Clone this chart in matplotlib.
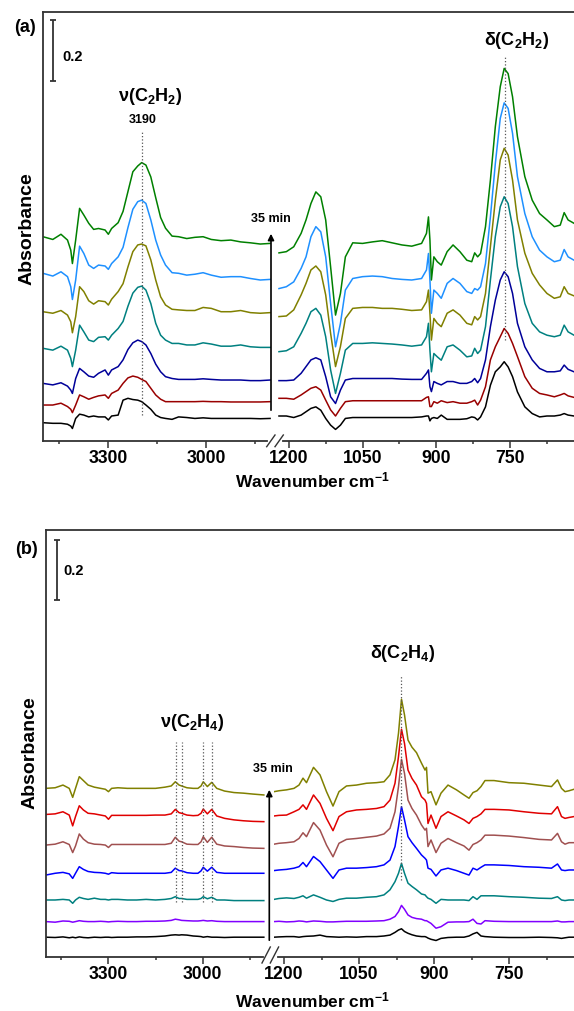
import numpy as np
import matplotlib.pyplot as plt
import matplotlib.patches as mpatches
from matplotlib.lines import Line2D

plt.rcParams['font.family'] = ['Liberation Sans', 'DejaVu Sans']
plt.rcParams['font.weight'] = 'bold'
plt.rcParams['mathtext.fontset'] = 'custom'
plt.rcParams['mathtext.rm'] = 'Liberation Sans:bold'
plt.rcParams['mathtext.it'] = 'Liberation Sans:bold'
plt.rcParams['mathtext.bf'] = 'Liberation Sans:bold'
plt.rcParams['mathtext.default'] = 'rm'

W, H = 574, 1011

# ---------------- panel (a): C2H2, absorbance in mAbs ----------------
wn_a_hi = [3500, 3470, 3445, 3425, 3415, 3410, 3400, 3388, 3375, 3360, 3345, 3330, 3310,
           3300, 3290, 3270, 3255, 3240, 3225, 3210, 3198, 3185, 3170, 3155, 3140, 3125,
           3105, 3085, 3060, 3035, 3010, 2985, 2955, 2925, 2895, 2865, 2835, 2805]
wn_a_lo = [1220, 1205, 1190, 1175, 1165, 1155, 1145, 1135, 1125, 1115, 1105, 1095, 1085,
           1070, 1050, 1030, 1010, 990, 970, 950, 930, 920, 916, 913, 910, 905, 898, 890,
           878, 866, 852, 838, 828, 822, 816, 810, 800, 790, 780, 770, 762, 754, 745, 735,
           720, 705, 690, 675, 660, 648, 640, 632, 620]

a_hi_black = [-14, -16, -16, -19, -25, -33, 0, 14, 11, 5, 8, 5, 5, -5, 8, 11, 60, 66, 62, 60, 55, 44, 30, 11, 3, 0, -3, 5, 3, 0, 2, 0, 0, 0, 0, 0, -1, 0]
a_hi_red = [-11, -11, -5, -16, -25, -36, -11, 22, 16, 8, 14, 19, 22, 11, 27, 38, 60, 78, 84, 80, 73, 66, 44, 22, 8, 0, 0, 0, 0, 0, 1, 0, 0, -1, -1, -1, -1, 0]
a_hi_navy = [-11, -16, -9, -20, -33, -44, 5, 38, 27, 13, 9, 22, 33, 16, 33, 44, 66, 100, 122, 131, 126, 115, 87, 52, 27, 11, 5, 2, 2, 2, 4, 2, 0, 0, 0, -2, -2, 0]
a_hi_teal = [-3, -9, 4, -9, -36, -63, -9, 73, 51, 24, 19, 33, 35, 24, 40, 62, 85, 135, 178, 197, 201, 188, 144, 79, 40, 24, 13, 13, 8, 8, 15, 11, 4, 4, 8, 2, 0, 0]
a_hi_olive = [3, -2, 7, -8, -30, -66, -13, 85, 69, 39, 28, 39, 36, 25, 44, 69, 95, 150, 200, 222, 225, 219, 173, 107, 52, 25, 11, 9, 7, 7, 17, 14, 3, 3, 7, 0, -2, 0]
a_hi_blue = [20, 11, 25, 9, -24, -66, -2, 109, 85, 47, 36, 47, 44, 33, 52, 74, 105, 170, 230, 255, 260, 249, 195, 129, 80, 47, 22, 20, 14, 17, 22, 14, 7, 9, 9, 3, -2, 0]
a_hi_green = [22, 13, 30, 11, -22, -66, 11, 115, 93, 66, 46, 49, 44, 30, 49, 68, 105, 170, 235, 254, 265, 257, 218, 150, 85, 50, 24, 22, 16, 20, 22, 13, 9, 11, 5, 2, -2, 0]

a_lo_black = [8, 8, 3, 11, 22, 33, 38, 27, 0, -22, -36, -22, 0, 3, 3, 3, 3, 3, 3, 3, 5, 8, 8, -8, 0, 3, 0, 11, -3, -3, -3, -1, 5, 3, -5, 5, 38, 109, 153, 169, 186, 169, 137, 87, 38, 16, 5, 8, 8, 11, 16, 11, 8]
a_lo_red = [11, 11, 8, 22, 33, 44, 49, 38, 5, -27, -47, -22, 0, 3, 3, 3, 3, 3, 3, 3, 3, 14, 16, -16, -16, 0, -5, 3, -3, 0, -5, -5, 0, 5, -11, 5, 49, 137, 180, 213, 240, 224, 191, 148, 82, 44, 27, 22, 16, 22, 27, 19, 14]
a_lo_navy = [-2, -2, 0, 22, 44, 66, 73, 66, 11, -55, -77, -33, 0, 5, 5, 5, 5, 5, 3, 2, 2, 22, 33, -22, -38, -5, -11, -16, -5, -5, -11, -11, -5, 5, -9, 5, 66, 175, 262, 328, 355, 339, 284, 186, 109, 66, 38, 27, 27, 30, 49, 35, 27]
a_lo_teal = [-14, -11, 2, 46, 79, 117, 128, 106, 35, -74, -151, -85, -9, 13, 13, 15, 13, 11, 8, 4, 8, 35, 79, -9, -80, -20, -31, -42, 2, 8, -9, -31, -28, -3, -20, -9, 68, 221, 363, 461, 494, 472, 396, 265, 144, 79, 51, 40, 35, 40, 73, 51, 40]
a_lo_olive = [-13, -11, 9, 58, 96, 140, 153, 134, 58, -68, -177, -111, -19, 14, 17, 17, 14, 14, 11, 7, 9, 36, 74, -2, -90, -19, -35, -46, -2, 9, -8, -35, -40, -13, -24, -13, 63, 216, 369, 501, 539, 517, 435, 304, 195, 129, 91, 63, 47, 52, 85, 63, 55]
a_lo_blue = [-30, -24, -8, 36, 74, 140, 173, 156, 74, -79, -221, -144, -35, 3, 9, 11, 9, 3, 0, -2, 3, 31, 85, -2, -111, -35, -46, -62, -13, 3, -13, -40, -46, -30, -35, -24, 52, 205, 380, 528, 579, 561, 479, 337, 216, 140, 96, 74, 58, 63, 98, 74, 63]
a_lo_green = [-31, -27, -11, 33, 77, 131, 169, 153, 77, -77, -235, -164, -44, 2, 0, 5, 9, 2, -5, -9, 0, 33, 87, 11, -120, -44, -60, -71, -27, -5, -27, -55, -60, -31, -44, -33, 55, 208, 383, 514, 574, 557, 481, 350, 219, 142, 98, 77, 55, 60, 101, 77, 66]

offsets_a = [74, 129, 200, 307, 421, 530, 648]
colors_a = ['#000000', '#990000', '#000099', '#008080', '#808000', '#1E90FF', '#008000']

# ---------------- panel (b): C2H4 ----------------
wn_b_hi = [3500, 3470, 3445, 3425, 3414, 3405, 3393, 3380, 3365, 3345, 3325, 3310, 3300,
           3290, 3270, 3240, 3210, 3180, 3150, 3120, 3100, 3087, 3075, 3067, 3050, 3030,
           3015, 3005, 2998, 2985, 2971, 2955, 2930, 2900, 2870, 2840, 2805]
wn_b_lo = [1220, 1210, 1195, 1180, 1170, 1162, 1155, 1141, 1128, 1115, 1102, 1090, 1075,
           1055, 1035, 1015, 1000, 988, 978, 971, 965, 959, 952, 944, 935, 925, 918, 915,
           912, 906, 896, 886, 872, 855, 840, 830, 822, 814, 806, 798, 780, 750, 720, 690,
           665, 653, 645, 638, 630, 620]

b_hi_black = [0, -1, 1, -2, 0, -2, 1, -1, -2, 0, -1, 0, 0, -1, 0, 0, 1, 1, 2, 4, 7, 8, 7, 8, 7, 4, 3, 2, 0, 2, 0, 0, -1, 0, 0, 0, 0]
b_hi_purple = [0, -2, 2, 1, -2, 0, 3, 1, 0, 0, 1, 0, -1, 0, 1, 0, 0, 1, 1, 2, 4, 8, 6, 4, 3, 2, 2, 3, 4, 2, 3, 1, 0, 0, 0, 0, 0]
b_hi_teal = [2, 2, 4, 2, -9, 2, 11, 7, 4, 8, 4, 4, 2, 4, 4, 2, 2, 4, 2, 4, 7, 13, 7, 7, 4, 4, 4, 7, 13, 6, 11, 2, 2, 0, 0, 0, 0]
b_hi_blue = [-6, 0, 3, -2, -17, 0, 22, 13, 6, 3, 2, 0, -3, 2, 0, 0, 0, 0, 0, 0, 3, 17, 9, 8, 2, 0, 0, 8, 20, 7, 20, 3, 0, 0, 0, 0, 0]
b_hi_brown = [11, 14, 22, 13, -14, 8, 48, 31, 19, 14, 13, 11, 3, 13, 13, 13, 13, 13, 13, 13, 17, 37, 24, 22, 14, 13, 13, 22, 39, 20, 37, 14, 8, 6, 3, 1, 0]
b_hi_red = [24, 26, 33, 22, -14, 17, 53, 39, 28, 26, 22, 19, 8, 21, 21, 21, 21, 21, 22, 22, 26, 41, 30, 28, 22, 20, 21, 28, 42, 26, 41, 19, 11, 6, 3, 1, 0]
b_hi_olive = [22, 24, 33, 22, -8, 22, 61, 48, 33, 26, 22, 19, 11, 22, 24, 22, 22, 22, 22, 26, 30, 44, 33, 30, 24, 22, 22, 30, 44, 28, 42, 22, 13, 8, 6, 3, 0]

b_lo_black = [0, 1, 2, 2, 0, 2, 3, 4, 7, 2, 1, 0, 1, 0, 2, 2, 4, 7, 16, 24, 28, 19, 13, 8, 4, 2, 2, 0, -3, -7, -11, -4, -1, 0, 0, 4, 11, 16, 4, 2, 0, -1, -1, 0, -1, -2, -4, -2, 0, 0]
b_lo_purple = [0, 1, -1, 0, 2, 1, -1, 2, 1, -1, -1, 0, 1, 1, 1, 2, 3, 8, 17, 33, 54, 41, 22, 14, 10, 8, 3, 3, 0, -6, -22, -17, -2, -1, -1, 0, 8, -6, -8, 3, 1, 0, 0, 0, 0, 2, -1, -1, 0, 0]
b_lo_teal = [4, 7, 9, 7, 11, 16, 8, 19, 11, 2, -3, 4, 8, 8, 11, 13, 19, 36, 63, 91, 124, 91, 58, 47, 36, 22, 19, 13, 8, 4, -9, 4, 2, 2, 2, 0, 13, 4, 16, 16, 16, 13, 11, 8, 7, 13, 2, 0, 2, 2]
b_lo_blue = [9, 11, 13, 17, 22, 36, 22, 56, 39, 11, -17, 11, 17, 17, 19, 22, 28, 44, 89, 156, 222, 178, 122, 102, 83, 61, 50, 44, 17, 13, -9, 11, 17, 9, 0, -6, 17, 11, 20, 28, 28, 26, 22, 20, 17, 31, 11, 9, 11, 11]
b_lo_brown = [14, 17, 19, 22, 33, 52, 39, 86, 61, 11, -28, 17, 30, 33, 37, 41, 48, 67, 122, 206, 297, 250, 161, 133, 111, 78, 61, 67, 6, 28, -14, 17, 33, 19, 8, -6, 13, 19, 28, 44, 44, 41, 36, 30, 28, 50, 22, 14, 19, 19]
b_lo_red = [19, 21, 22, 33, 41, 56, 41, 89, 61, 11, -30, 17, 33, 39, 41, 44, 50, 72, 128, 217, 308, 261, 172, 144, 122, 83, 72, 61, -6, 22, -22, 17, 33, 19, 6, -6, 11, 17, 26, 41, 41, 39, 33, 28, 26, 50, 17, 11, 14, 17]
b_lo_olive = [11, 14, 17, 22, 33, 56, 41, 92, 67, 11, -37, 11, 30, 33, 39, 41, 44, 67, 117, 206, 319, 267, 183, 159, 141, 106, 83, 92, 6, 11, -33, 6, 33, 17, 0, -11, 8, 14, 28, 48, 48, 41, 39, 33, 28, 50, 22, 11, 14, 19]

offsets_b = [66, 118, 188, 279, 362, 451, 540]
colors_b = ['#000000', '#8000FF', '#008080', '#0000FF', '#A05050', '#E00000', '#808000']

# band markers
nu_c2h2 = 3196
delta_c2h2 = 760
nu_c2h4 = [3085, 3067, 2998, 2971]
delta_c2h4 = 966

SPINE = '#333333'


def fx(px):
    return px / W


def fy(py):
    return 1 - py / H


def rect(x0, x1, y0, y1):
    return [fx(x0), fy(y1), (x1 - x0) / W, (y1 - y0) / H]


def broken_axes(fig, xl, xr, y0, y1, lim_hi, lim_lo, ymax, bound_hi, bound_lo):
    ax1 = fig.add_axes(rect(xl[0], xl[1], y0, y1))
    ax2 = fig.add_axes(rect(xr[0], xr[1], y0, y1))
    ax1.set_xlim(*lim_hi)
    ax2.set_xlim(*lim_lo)
    for ax in (ax1, ax2):
        ax.set_ylim(0, ymax)
        ax.set_yticks([])
        ax.patch.set_alpha(0)
        ax.spines['top'].set_visible(False)
        ax.spines['right'].set_visible(False)
        for s in ('left', 'bottom'):
            ax.spines[s].set_color(SPINE)
            ax.spines[s].set_linewidth(1.3)
        ax.tick_params(axis='x', which='major', direction='out', length=4.8, width=1.1,
                       labelsize=12.7, pad=2, color=SPINE)
        ax.tick_params(axis='x', which='minor', direction='out', length=2.4, width=1.1,
                       color=SPINE)
    ax2.spines['left'].set_visible(False)
    ax1.spines['bottom'].set_bounds(*bound_hi)
    ax2.spines['bottom'].set_bounds(*bound_lo)
    ax1.set_xticks([3300, 3000])
    ax1.set_xticks([3450, 3150, 2850], minor=True)
    ax2.set_xticks([1200, 1050, 900, 750])
    ax2.set_xticks([1125, 975, 825, 675], minor=True)
    # continuous top frame line
    fig.add_artist(Line2D([fx(xl[0]), 1], [fy(y0), fy(y0)], color=SPINE, lw=1.3))
    return ax1, ax2


def break_marks(fig, xs, ytop, ybot):
    for x in xs:
        fig.add_artist(Line2D([fx(x), fx(x + 8.3)], [fy(ybot), fy(ytop)], color=SPINE, lw=1.0))


def scale_bar(ax, x, y0, y1, tx, ty):
    ax.errorbar([x], [(y0 + y1) / 2], yerr=[(y1 - y0) / 2], color=SPINE, lw=1.3,
                capsize=2.4, capthick=1.3)
    ax.text(tx, ty, '0.2', fontsize=10.5, ha='left', va='center')


fig = plt.figure(figsize=(W / 100, H / 100), dpi=100)

# ---------- (a) ----------
axa1, axa2 = broken_axes(fig, (43, 271.7), (278, 574), 12, 441, (3500, 2800), (1222, 620),
                         1407, (3500, 2815), (1212, 620))
hi_a = [a_hi_black, a_hi_red, a_hi_navy, a_hi_teal, a_hi_olive, a_hi_blue, a_hi_green]
lo_a = [a_lo_black, a_lo_red, a_lo_navy, a_lo_teal, a_lo_olive, a_lo_blue, a_lo_green]
for hi, lo, off, col in zip(hi_a, lo_a, offsets_a, colors_a):
    axa1.plot(wn_a_hi, off + np.array(hi), color=col, lw=1.1)
    axa2.plot(wn_a_lo, off + np.array(lo), color=col, lw=1.1)

axa1.plot([nu_c2h2, nu_c2h2], [85, 1016], ls=':', color='#555555', lw=0.9)
axa1.text(nu_c2h2, 1052, '3190', fontsize=9, ha='center', va='center')
axa1.text(3172, 1131, r'ν(C$_2$H$_2$)', fontsize=13, ha='center', va='center')
axa2.plot([delta_c2h2, delta_c2h2], [331, 1259], ls=':', color='#555555', lw=0.9)
axa2.text(737, 1315, r'δ(C$_2$H$_2$)', fontsize=13, ha='center', va='center')
scale_bar(axa1, 3469, 1180, 1380, 3442, 1259)
break_marks(fig, [266.7, 275], 435, 446.7)

fig.add_artist(mpatches.FancyArrowPatch((fx(271), fy(413)), (fx(271), fy(231)),
                                        transform=fig.transFigure, arrowstyle='-|>',
                                        mutation_scale=9, lw=1.2, color='black'))
fig.text(fx(271), fy(219), '35 min', fontsize=9, ha='center', va='center')
fig.text(fx(25), fy(27), '(a)', fontsize=13, ha='center', va='center')
fig.text(fx(27), fy(229), 'Absorbance', fontsize=14, rotation=90, ha='center', va='center')
fig.text(fx(312), fy(487), 'Wavenumber cm$^{-1}$', fontsize=12.5, ha='center', va='baseline')

# ---------- (b) ----------
axb1, axb2 = broken_axes(fig, (45.7, 265.4), (274, 574), 530, 957, (3500, 2800), (1220, 620),
                         1423, (3500, 2808), (1212, 620))
hi_b = [b_hi_black, b_hi_purple, b_hi_teal, b_hi_blue, b_hi_brown, b_hi_red, b_hi_olive]
lo_b = [b_lo_black, b_lo_purple, b_lo_teal, b_lo_blue, b_lo_brown, b_lo_red, b_lo_olive]
for hi, lo, off, col in zip(hi_b, lo_b, offsets_b, colors_b):
    axb1.plot(wn_b_hi, off + np.array(hi), color=col, lw=1.1)
    axb2.plot(wn_b_lo, off + np.array(lo), color=col, lw=1.1)

for w in nu_c2h4:
    axb1.plot([w, w], [182, 717], ls=':', color='#555555', lw=0.9)
axb1.text(3032, 783, r'ν(C$_2$H$_4$)', fontsize=13, ha='center', va='center')
axb2.plot([delta_c2h4, delta_c2h4], [257, 940], ls=':', color='#555555', lw=0.9)
axb2.text(963, 1013, r'δ(C$_2$H$_4$)', fontsize=13, ha='center', va='center')
scale_bar(axb1, 3464, 1190, 1390, 3445, 1287)
break_marks(fig, [262, 270.3], 947, 963)

fig.add_artist(mpatches.FancyArrowPatch((fx(269.3), fy(943)), (fx(269.3), fy(787)),
                                        transform=fig.transFigure, arrowstyle='-|>',
                                        mutation_scale=9, lw=1.2, color='black'))
fig.text(fx(273), fy(769), '35 min', fontsize=9, ha='center', va='center')
fig.text(fx(27), fy(550), '(b)', fontsize=13, ha='center', va='center')
fig.text(fx(30), fy(753), 'Absorbance', fontsize=14, rotation=90, ha='center', va='center')
fig.text(fx(312), fy(1007), 'Wavenumber cm$^{-1}$', fontsize=12.5, ha='center', va='baseline')

fig.savefig('out.png', dpi=100)
